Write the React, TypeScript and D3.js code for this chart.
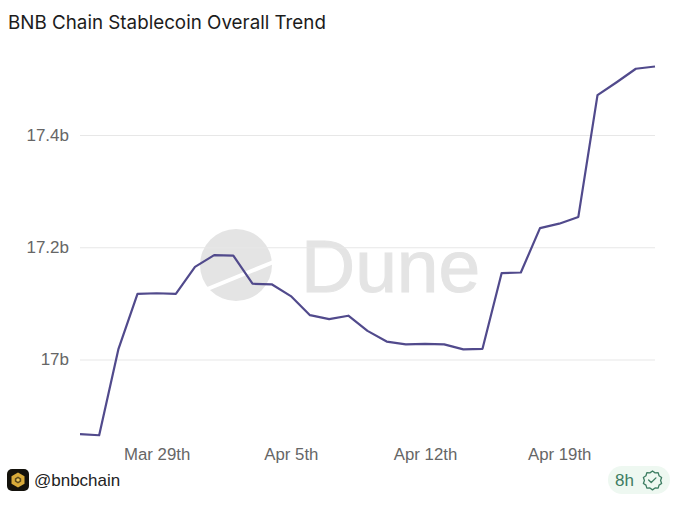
import * as d3 from "d3";
import React from "react";

const title = "BNB Chain Stablecoin Overall Trend";
const handle = "@bnbchain";
const freshness = "8h";
const startDay = new Date(2025, 2, 25);
const supply = [
  16.867, 16.865, 17.018, 17.117, 17.118, 17.117, 17.165, 17.186, 17.185, 17.135, 17.134,
  17.113, 17.079, 17.072, 17.078, 17.051, 17.032, 17.027, 17.028, 17.027, 17.018, 17.019,
  17.154, 17.155, 17.234, 17.242, 17.254, 17.471, 17.494, 17.518, 17.522,
];
const yTicks = [17, 17.2, 17.4];
const xTicks = [new Date(2025, 2, 29), new Date(2025, 3, 5), new Date(2025, 3, 12), new Date(2025, 3, 19)];
const xTickLabels = ["Mar 29th", "Apr 5th", "Apr 12th", "Apr 19th"];

const FONT = "Inter, sans-serif";
const LABEL_FONT = "'Liberation Sans', sans-serif";
const width = 680;
const height = 505;
const marginLeft = 80;
const marginRight = 25;

export default function App() {
  const gx = React.useRef<SVGGElement>(null);
  const gy = React.useRef<SVGGElement>(null);

  const days = supply.map((_, i) => d3.timeDay.offset(startDay, i));
  const x = d3.scaleTime([days[0], days[days.length - 1]], [marginLeft, width - marginRight]);
  const y = d3.scaleLinear([17, 17.4], [359.5, 135]);
  const line = d3
    .line<number>()
    .x((_, i) => x(days[i]))
    .y((d) => y(d));

  React.useEffect(() => {
    const ax = d3
      .axisBottom(x)
      .tickValues(xTicks)
      .tickSize(0)
      .tickPadding(0)
      .tickFormat((_, i) => xTickLabels[i]);
    const sx = d3.select(gx.current!).call(ax as any);
    sx.select(".domain").remove();
    sx.selectAll("text").attr("fill", "#666").attr("font-size", 16.8).attr("font-family", LABEL_FONT).attr("dy", "0.9em");

    const ay = d3
      .axisLeft(y)
      .tickValues(yTicks)
      .tickSize(-(width - marginLeft - marginRight))
      .tickPadding(11)
      .tickFormat((d) => `${d}b`);
    const sy = d3.select(gy.current!).call(ay as any);
    sy.select(".domain").remove();
    sy.selectAll("line").attr("stroke", "#e7e7e7");
    sy.selectAll("text").attr("fill", "#666").attr("font-size", 17).attr("font-family", LABEL_FONT);
  }, []);

  return (
    <svg
      width={width}
      height={height}
      style={{ position: "absolute", left: 0, top: 0, background: "#fff" }}
    >
      {/* watermark */}
      <g fill="#e4e4e4">
        <circle cx={236} cy={265} r={36} />
        <line x1={205} y1={290} x2={276} y2={261} stroke="#fff" strokeWidth={4} />
        <text x={301} y={292} fontFamily={LABEL_FONT} fontSize={75} stroke="#e4e4e4" strokeWidth={1}>
          Dune
        </text>
      </g>

      <text x={8} y={28.5} fontFamily={FONT} fontSize={18.8} fill="#1c1c1c">
        {title}
      </text>

      <g ref={gy} transform={`translate(${marginLeft},0)`} />
      <g ref={gx} transform="translate(0,445)" />

      <path d={line(supply) ?? ""} fill="none" stroke="#514a8c" strokeWidth={2.2} strokeLinejoin="round" />

      {/* footer */}
      <rect x={7} y={469} width={22} height={22} rx={5} fill="#14120c" />
      <path d="M18 472.5l6.5 3.7v7.6l-6.5 3.7-6.5-3.7v-7.6z" fill="#d9ab3a" />
      <path d="M18 476.5l3.2 1.9v3.2l-3.2 1.9-3.2-1.9v-3.2z" fill="#5c4a1c" />
      <path d="M18 478.3l1.6 .9v1.6l-1.6 .9-1.6-.9v-1.6z" fill="#efc95a" />
      <text x={34} y={485.5} fontFamily={LABEL_FONT} fontSize={17} fill="#222">
        {handle}
      </text>

      <rect x={608} y={466} width={62} height={28} rx={14} fill="#eef8f1" />
      <text x={615} y={486} fontFamily={LABEL_FONT} fontSize={17} fill="#3d7d62">
        {freshness}
      </text>
      <g
        transform="translate(652.5,480) scale(0.86) translate(-652,-481)"
        fill="none"
        stroke="#3d7d62"
        strokeWidth={1.5}
        strokeLinejoin="round"
        strokeLinecap="round"
      >
        <path d="M652 470.5l3 2.2 3.6-.2 1 3.5 3 2-1.2 3.5 1.2 3.5-3 2-1 3.5-3.6-.2-3 2.2-3-2.2-3.6.2-1-3.5-3-2 1.2-3.5-1.2-3.5 3-2 1-3.5 3.6.2z" />
        <path d="M647.5 481l3 3 5.5-5.5" />
      </g>
    </svg>
  );
}
